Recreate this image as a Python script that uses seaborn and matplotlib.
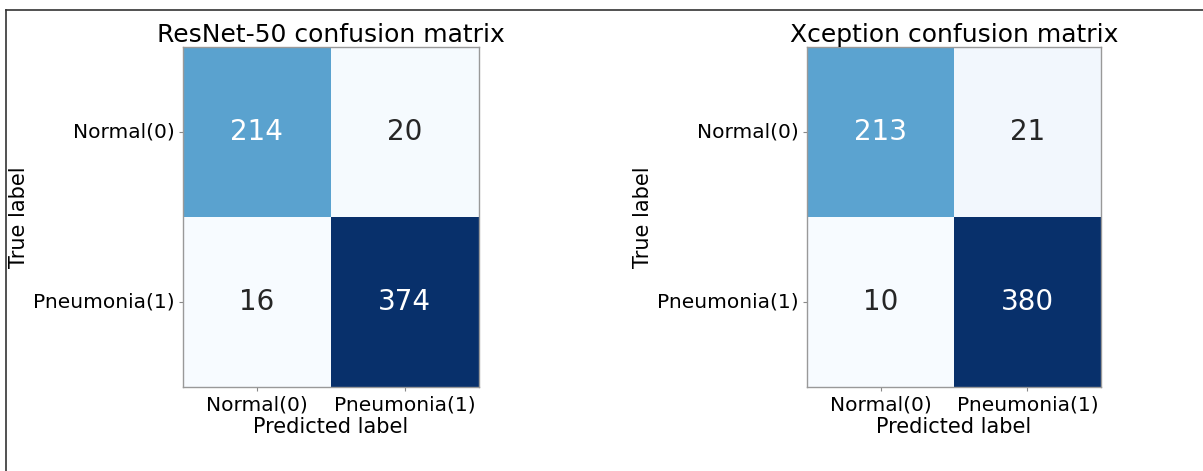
import numpy as np
import matplotlib
matplotlib.use("Agg")
import matplotlib.pyplot as plt
from matplotlib.lines import Line2D
import seaborn as sns

class_names = ["Normal(0)", "Pneumonia(1)"]
resnet_cm = [[214, 20], [16, 374]]
xception_cm = [[213, 21], [10, 380]]
titles = ["ResNet-50 confusion matrix", "Xception confusion matrix"]

plt.rcParams["font.family"] = "DejaVu Sans"
fig = plt.figure(figsize=(12.03, 4.71), dpi=100)

# axes positions (figure fraction)
ax1 = fig.add_axes([0.152, 0.178, 0.246, 0.722])
ax2 = fig.add_axes([0.671, 0.178, 0.244, 0.722])

for ax, cm, title in zip([ax1, ax2], [resnet_cm, xception_cm], titles):
    cm = np.array(cm)
    sns.heatmap(cm, ax=ax, cmap="Blues", annot=True, fmt="d", cbar=False,
                annot_kws={"fontsize": 20}, xticklabels=class_names,
                yticklabels=class_names)
    ax.set_title(title, fontsize=18, pad=3)
    ax.set_xlabel("Predicted label", fontsize=15, labelpad=2)
    ax.set_ylabel("True label", fontsize=15, labelpad=3)
    ax.tick_params(axis="both", labelsize=14.5, length=3, pad=3, color="#888888")
    ax.set_yticklabels(class_names, rotation=0)
    ax.set_xticklabels(class_names, rotation=0)
    for s in ax.spines.values():
        s.set_visible(True)
        s.set_color("#999999")
        s.set_linewidth(1.0)

# thin frame around the picture (top and left)
fig.add_artist(Line2D([0.005, 1.0], [0.979, 0.979], color="#333333", lw=1.2))
fig.add_artist(Line2D([0.005, 0.005], [0.0, 0.979], color="#333333", lw=1.2))

fig.savefig("out.png", dpi=100)
